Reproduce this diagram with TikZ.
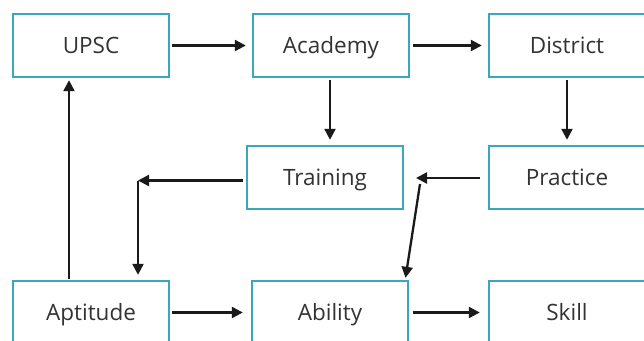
\documentclass[tikz,border=0pt]{standalone}
\usepackage{fontspec}
\setmainfont{Open Sans}
\usetikzlibrary{arrows.meta}
\definecolor{boxline}{HTML}{3AA6C0}
\definecolor{textgray}{HTML}{333333}
\definecolor{arrowgray}{HTML}{1A1A1A}
\begin{document}
\begin{tikzpicture}[
			x=1pt, y=-1pt,
			stage/.style={draw=boxline, line width=2.4pt, fill=white, minimum width=156pt, minimum height=63pt,
					text height=16pt, text depth=0pt, text=textgray, font=\fontsize{22.5}{26}\selectfont},
			flow/.style={draw=arrowgray, line width=2.3pt, -{Triangle[length=11pt,width=11pt]}}
		]
		\useasboundingbox (0,0) rectangle (644,340);
		\clip (0,0) rectangle (644,340);
		\fill[white] (0,0) rectangle (644,340);
		% top row
		\node[stage] (upsc) at (91,45.5) {UPSC};
		\node[stage] (academy) at (331,45.5) {Academy};
		\node[stage] (district) at (567,45.5) {District};
		% middle row
		\node[stage] (training) at (325,177.5) {Training};
		\node[stage] (practice) at (567,177.5) {Practice};
		% bottom row
		\node[stage] (aptitude) at (91,312.5) {Aptitude};
		\node[stage] (ability) at (330,312.5) {Ability};
		\node[stage] (skill) at (567,312.5) {Skill};
		\coordinate (tbend) at (138,180.5);
		\coordinate (pbend) at (416,178);
		\coordinate (pdrop) at (420,184);
		\draw[flow, shorten <=2pt, shorten >=6pt] (upsc) -- (academy);
		\draw[flow, shorten <=3pt, shorten >=6pt] (academy) -- (district);
		\draw[flow, shorten <=2pt, shorten >=5pt] (academy.south -| 330,0) -- (training.north -| 330,0);
		\draw[flow, shorten <=2pt, shorten >=5pt] (district.south) -- (practice.north);
		\draw[flow, shorten <=3pt] (training.west |- tbend) -- (tbend);
		\draw[flow, shorten >=5pt] (tbend) -- (tbend |- aptitude.north);
		\draw[flow, shorten <=8pt] (practice.west |- pbend) -- (pbend);
		\draw[flow, shorten >=2pt] (pdrop) -- ([xshift=-4pt]ability.north east);
		\draw[flow, shorten <=2pt, shorten >=8pt] (aptitude) -- (ability);
		\draw[flow, shorten <=4pt, shorten >=8pt] (ability) -- (skill);
		\draw[flow, shorten <=1pt, shorten >=2pt] (aptitude.north -| 69,0) -- (upsc.south -| 69,0);
	\end{tikzpicture}
\end{document}
